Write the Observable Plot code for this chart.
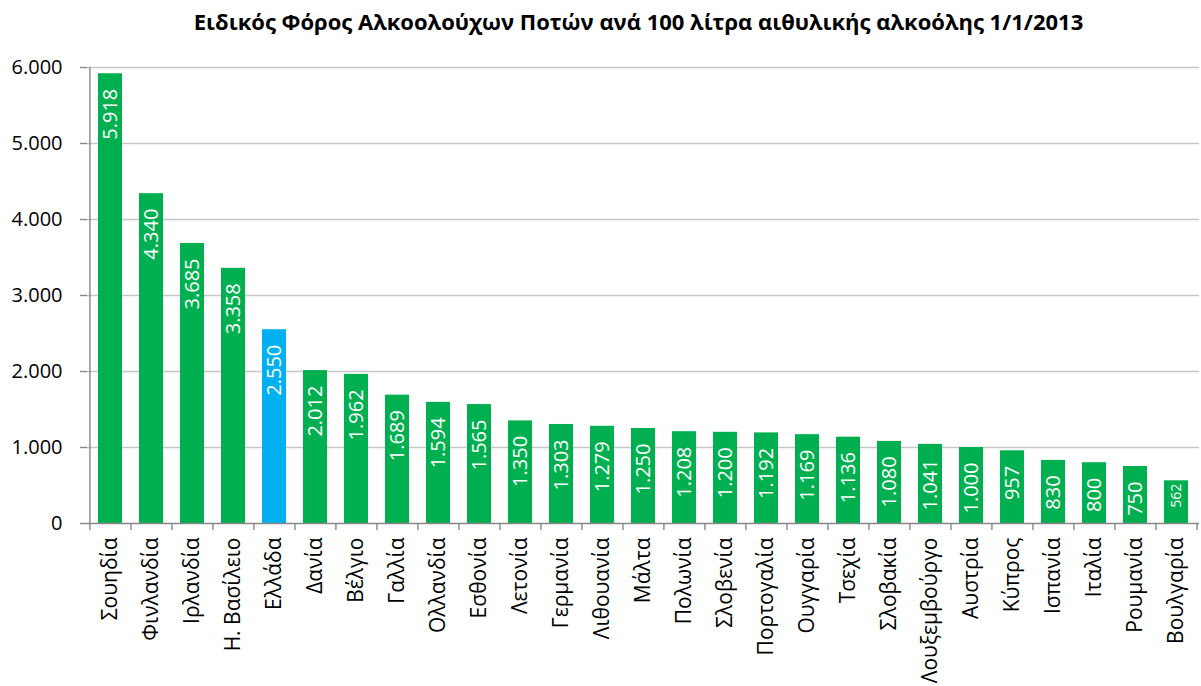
<!DOCTYPE html>
<html>
<head>
<meta charset="utf-8">
<script src="https://cdn.jsdelivr.net/npm/d3@7"></script>
<script src="https://cdn.jsdelivr.net/npm/@observablehq/plot@0.6"></script>
<style>
  body { margin: 0; background: #fff; }
  #wrap { width: 1201px; height: 686px; position: relative; font-family: "Open Sans", sans-serif; }
  #title { height: 40px; line-height: 42px; box-sizing: border-box; padding-left: 76px; text-align: center;
           font-weight: bold; font-size: 22px; color: #000; white-space: nowrap; }
</style>
</head>
<body>
<div id="wrap">
  <div id="title">Ειδικός Φόρος Αλκοολούχων Ποτών ανά 100 λίτρα αιθυλικής αλκοόλης 1/1/2013</div>
  <div id="chart"></div>
</div>
<script>
const countries = ["Σουηδία","Φινλανδία","Ιρλανδία","Η. Βασίλειο","Ελλάδα","Δανία","Βέλγιο","Γαλλία","Ολλανδία","Εσθονία","Λετονία","Γερμανία","Λιθουανία","Μάλτα","Πολωνία","Σλοβενία","Πορτογαλία","Ουγγαρία","Τσεχία","Σλοβακία","Λουξεμβούργο","Αυστρία","Κύπρος","Ισπανία","Ιταλία","Ρουμανία","Βουλγαρία"];
const taxValues = [5918,4340,3685,3358,2550,2012,1962,1689,1594,1565,1350,1303,1279,1250,1208,1200,1192,1169,1136,1080,1041,1000,957,830,800,750,562];
const yTicks = [0,1000,2000,3000,4000,5000,6000];
const highlight = "Ελλάδα";
const smallLabelCountry = "Βουλγαρία";

const data = countries.map((c, i) => ({country: c, value: taxValues[i]}));
const fmt = d3.formatLocale({decimal: ",", thousands: ".", grouping: [3], currency: ["", "€"]}).format(",d");

const W = 1201, H = 646, ML = 87, MR = 2, MT = 27, MB = 163;
const step = (W - ML - MR) / countries.length;
const green = "#00B050", blue = "#00B0F0";
const gridColor = "#C6C6C6", axisColor = "#878787";

const chart = Plot.plot({
  width: W, height: H,
  marginLeft: ML, marginRight: MR, marginTop: MT, marginBottom: MB,
  style: {fontFamily: "Open Sans, sans-serif", background: "#fff"},
  x: {domain: countries, paddingInner: 0.42, paddingOuter: 0.21, label: null},
  y: {domain: [0, 6000], label: null},
  marks: [
    Plot.ruleY(yTicks.filter(d => d > 0), {stroke: gridColor, strokeWidth: 1.4}),
    Plot.barY(data, {x: "country", y: "value", fill: d => d.country === highlight ? blue : green}),
    Plot.text(data.filter(d => d.country !== smallLabelCountry), {
      x: "country", y: "value", text: d => fmt(d.value), rotate: -90, textAnchor: "end",
      dy: 15, fill: "#fff", fontSize: 20
    }),
    Plot.text(data.filter(d => d.country === smallLabelCountry), {
      x: "country", y: "value", text: d => fmt(d.value), rotate: -90, textAnchor: "end",
      dy: 3, fill: "#fff", fontSize: 14
    }),
    Plot.axisY({ticks: yTicks, tickFormat: fmt, tickSize: 7, tickPadding: 18, stroke: axisColor, strokeWidth: 1.4, fontSize: 20, color: "#000"}),
    Plot.axisX({tickSize: 0, tickPadding: 14, tickRotate: -90, fontSize: 21, color: "#000"}),
    Plot.ruleX(countries, {x: d => d, dx: -step / 2, y1: 0, y2: 0, insetBottom: -7, stroke: axisColor, strokeWidth: 1.4}),
    Plot.ruleX([countries[countries.length - 1]], {x: d => d, dx: step / 2, y1: 0, y2: 0, insetBottom: -7, stroke: axisColor, strokeWidth: 1.4}),
    Plot.ruleY([0], {stroke: axisColor, strokeWidth: 1.4}),
    Plot.ruleX([countries[0]], {x: d => d, dx: -step / 2, y1: 0, y2: 6000, stroke: axisColor, strokeWidth: 1.4})
  ]
});
document.getElementById("chart").appendChild(chart);
</script>
</body>
</html>
